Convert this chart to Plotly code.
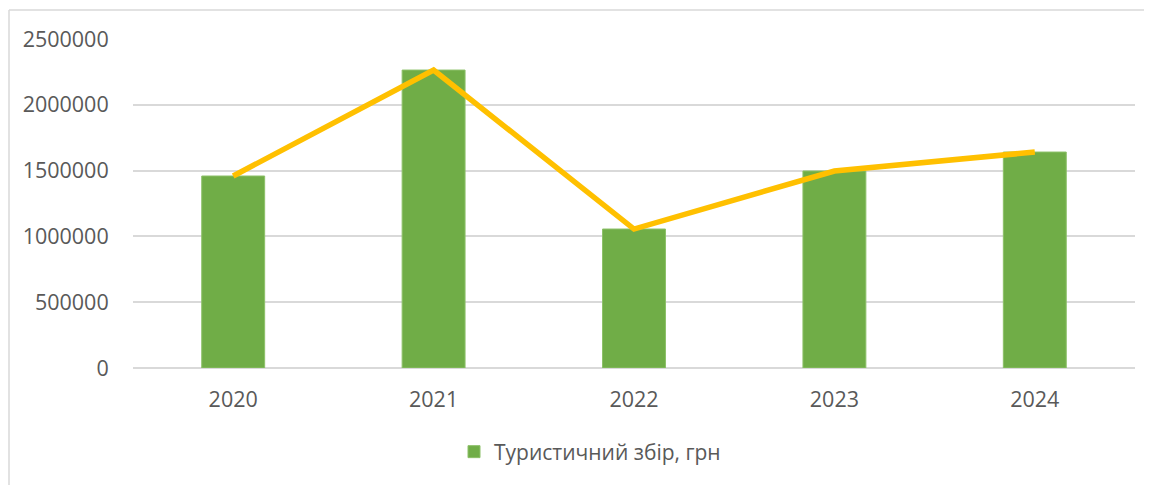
import plotly.graph_objects as go

years = ["2020", "2021", "2022", "2023", "2024"]
bar_values = [1459000, 2264000, 1056000, 1497000, 1641000]
line_values = [1459000, 2264000, 1056000, 1497000, 1641000]
y_ticks = [0, 500000, 1000000, 1500000, 2000000, 2500000]
series_name = "Туристичний збір, грн"

# page body has an 8px margin; figure coords = screen coords - 8
OFF = 8
W, H = 1152, 485
pw, ph = 1002, 329
L, T = 133 - OFF, 39 - OFF
R, B = W - L - pw, H - T - ph

def px_x(px):
    return (px - OFF - L) / pw

def px_y(py):
    return (T + ph - (py - OFF)) / ph

fig = go.Figure()
fig.add_trace(go.Bar(
    x=years, y=bar_values, name=series_name,
    marker=dict(color="#70AD47", line=dict(color="#8CC068", width=1)),
    showlegend=True,
))
fig.add_trace(go.Scatter(
    x=years, y=line_values, mode="lines", name="line",
    line=dict(color="#FFC000", width=5.5),
    showlegend=False,
))

font_family = "Open Sans, Liberation Sans, sans-serif"

fig.update_layout(
    width=W, height=H,
    margin=dict(l=L, r=R, t=T, b=B),
    paper_bgcolor="white", plot_bgcolor="white",
    bargap=0.686,
    font=dict(family=font_family, size=21.5, color="#595959"),
    showlegend=True,
    legend=dict(orientation="h", x=px_x(454), xanchor="left",
                y=px_y(452), yanchor="middle",
                font=dict(size=21, color="#595959"),
                bgcolor="rgba(0,0,0,0)"),
    xaxis=dict(
        type="category", showgrid=False, showline=False, zeroline=False,
        ticks="outside", ticklen=12, tickcolor="rgba(0,0,0,0)",
        tickfont=dict(size=21.5, color="#595959"),
    ),
    yaxis=dict(
        range=[0, 2500000], tickvals=y_ticks,
        ticktext=[str(v) for v in y_ticks],
        showgrid=True, gridcolor="#D9D9D9", gridwidth=1.5,
        zeroline=True, zerolinecolor="#D9D9D9", zerolinewidth=1.5,
        showline=False,
        ticks="outside", ticklen=19, tickcolor="rgba(0,0,0,0)",
        tickfont=dict(size=21.5, color="#595959"),
    ),
    shapes=[
        dict(type="line", xref="paper", yref="paper",
             x0=px_x(9), x1=px_x(1170), y0=px_y(10), y1=px_y(10),
             line=dict(color="#D9D9D9", width=1.5)),
        dict(type="line", xref="paper", yref="paper",
             x0=px_x(9), x1=px_x(9), y0=px_y(10), y1=px_y(500),
             line=dict(color="#D9D9D9", width=1.5)),
    ],
)

fig.write_html("out.html")
